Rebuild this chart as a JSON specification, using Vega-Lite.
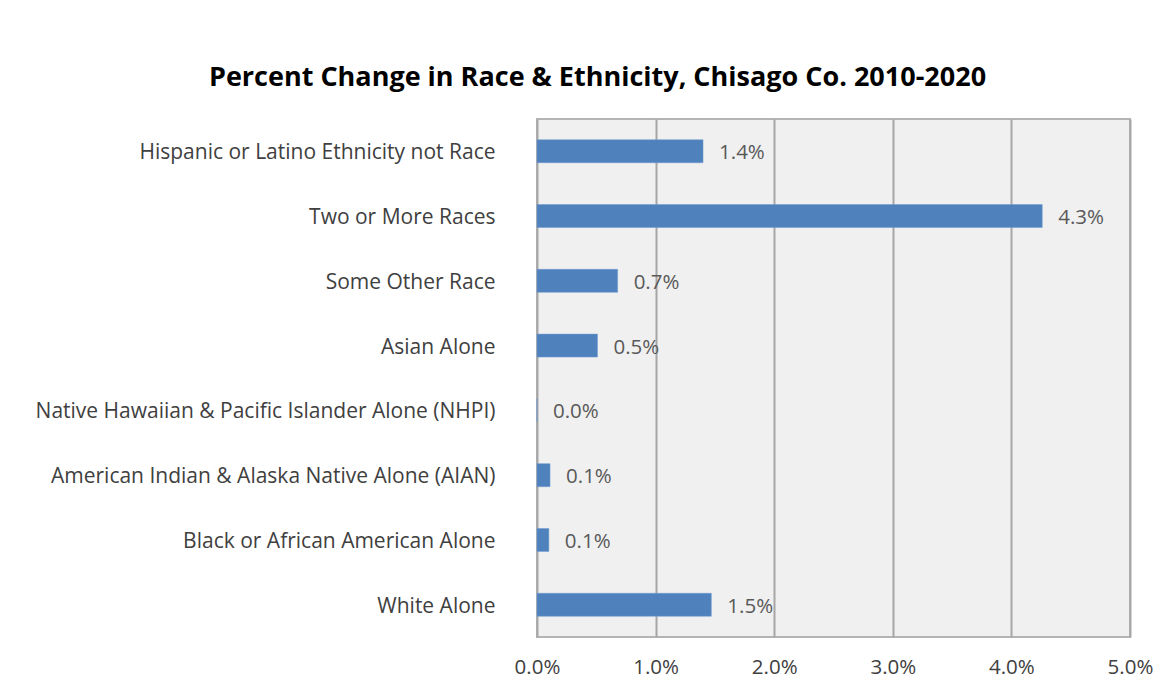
{
  "$schema": "https://vega.github.io/schema/vega-lite/v6.json",
  "autosize": "none",
  "width": 593,
  "height": 518,
  "padding": {"left": 537, "top": 119, "right": 36, "bottom": 59},
  "background": "white",
  "title": {
    "text": "Percent Change in Race & Ethnicity, Chisago Co. 2010-2020",
    "font": "Open Sans",
    "fontSize": 27,
    "fontWeight": "bold",
    "color": "#000000",
    "anchor": "middle",
    "dx": -236,
    "offset": 27
  },
  "config": {
    "view": {"fill": "#f0f0f0", "stroke": "#b4b4b4", "strokeWidth": 2},
    "axis": {"labelFont": "Open Sans", "domain": false, "ticks": false}
  },
  "data": {
    "values": [
      {"category": "Hispanic or Latino Ethnicity not Race", "value": 0.0140},
      {"category": "Two or More Races ", "value": 0.0426},
      {"category": "Some Other Race", "value": 0.0068},
      {"category": "Asian Alone", "value": 0.0051},
      {"category": "Native Hawaiian & Pacific Islander Alone (NHPI)", "value": 0.0},
      {"category": "American Indian & Alaska Native Alone (AIAN)", "value": 0.0011},
      {"category": "Black or African American Alone", "value": 0.0010},
      {"category": "White Alone", "value": 0.0147}
    ]
  },
  "encoding": {
    "y": {
      "field": "category",
      "type": "nominal",
      "sort": null,
      "title": null,
      "scale": {"paddingInner": 0.645, "paddingOuter": 0.32},
      "axis": {"labelFontSize": 21, "labelColor": "#404040", "labelPadding": 42, "labelOffset": 2, "labelLimit": 600, "grid": false}
    },
    "x": {
      "field": "value",
      "type": "quantitative",
      "title": null,
      "scale": {"domain": [0, 0.05], "nice": false},
      "axis": {"values": [0, 0.01, 0.02, 0.03, 0.04, 0.05], "format": ".1%", "labelFontSize": 20.5, "labelColor": "#404040", "labelPadding": 20, "grid": true, "gridColor": "#a6a6a6", "gridWidth": 2, "labelFlush": false}
    }
  },
  "layer": [
    {"mark": {"type": "bar", "color": "#4f81bd", "stroke": "#6f9ad0", "strokeWidth": 0.5}},
    {
      "mark": {"type": "text", "align": "left", "dx": 16, "dy": 2, "font": "Open Sans", "fontSize": 20.5, "color": "#595959"},
      "encoding": {"text": {"field": "value", "type": "quantitative", "format": ".1%"}}
    }
  ]
}
